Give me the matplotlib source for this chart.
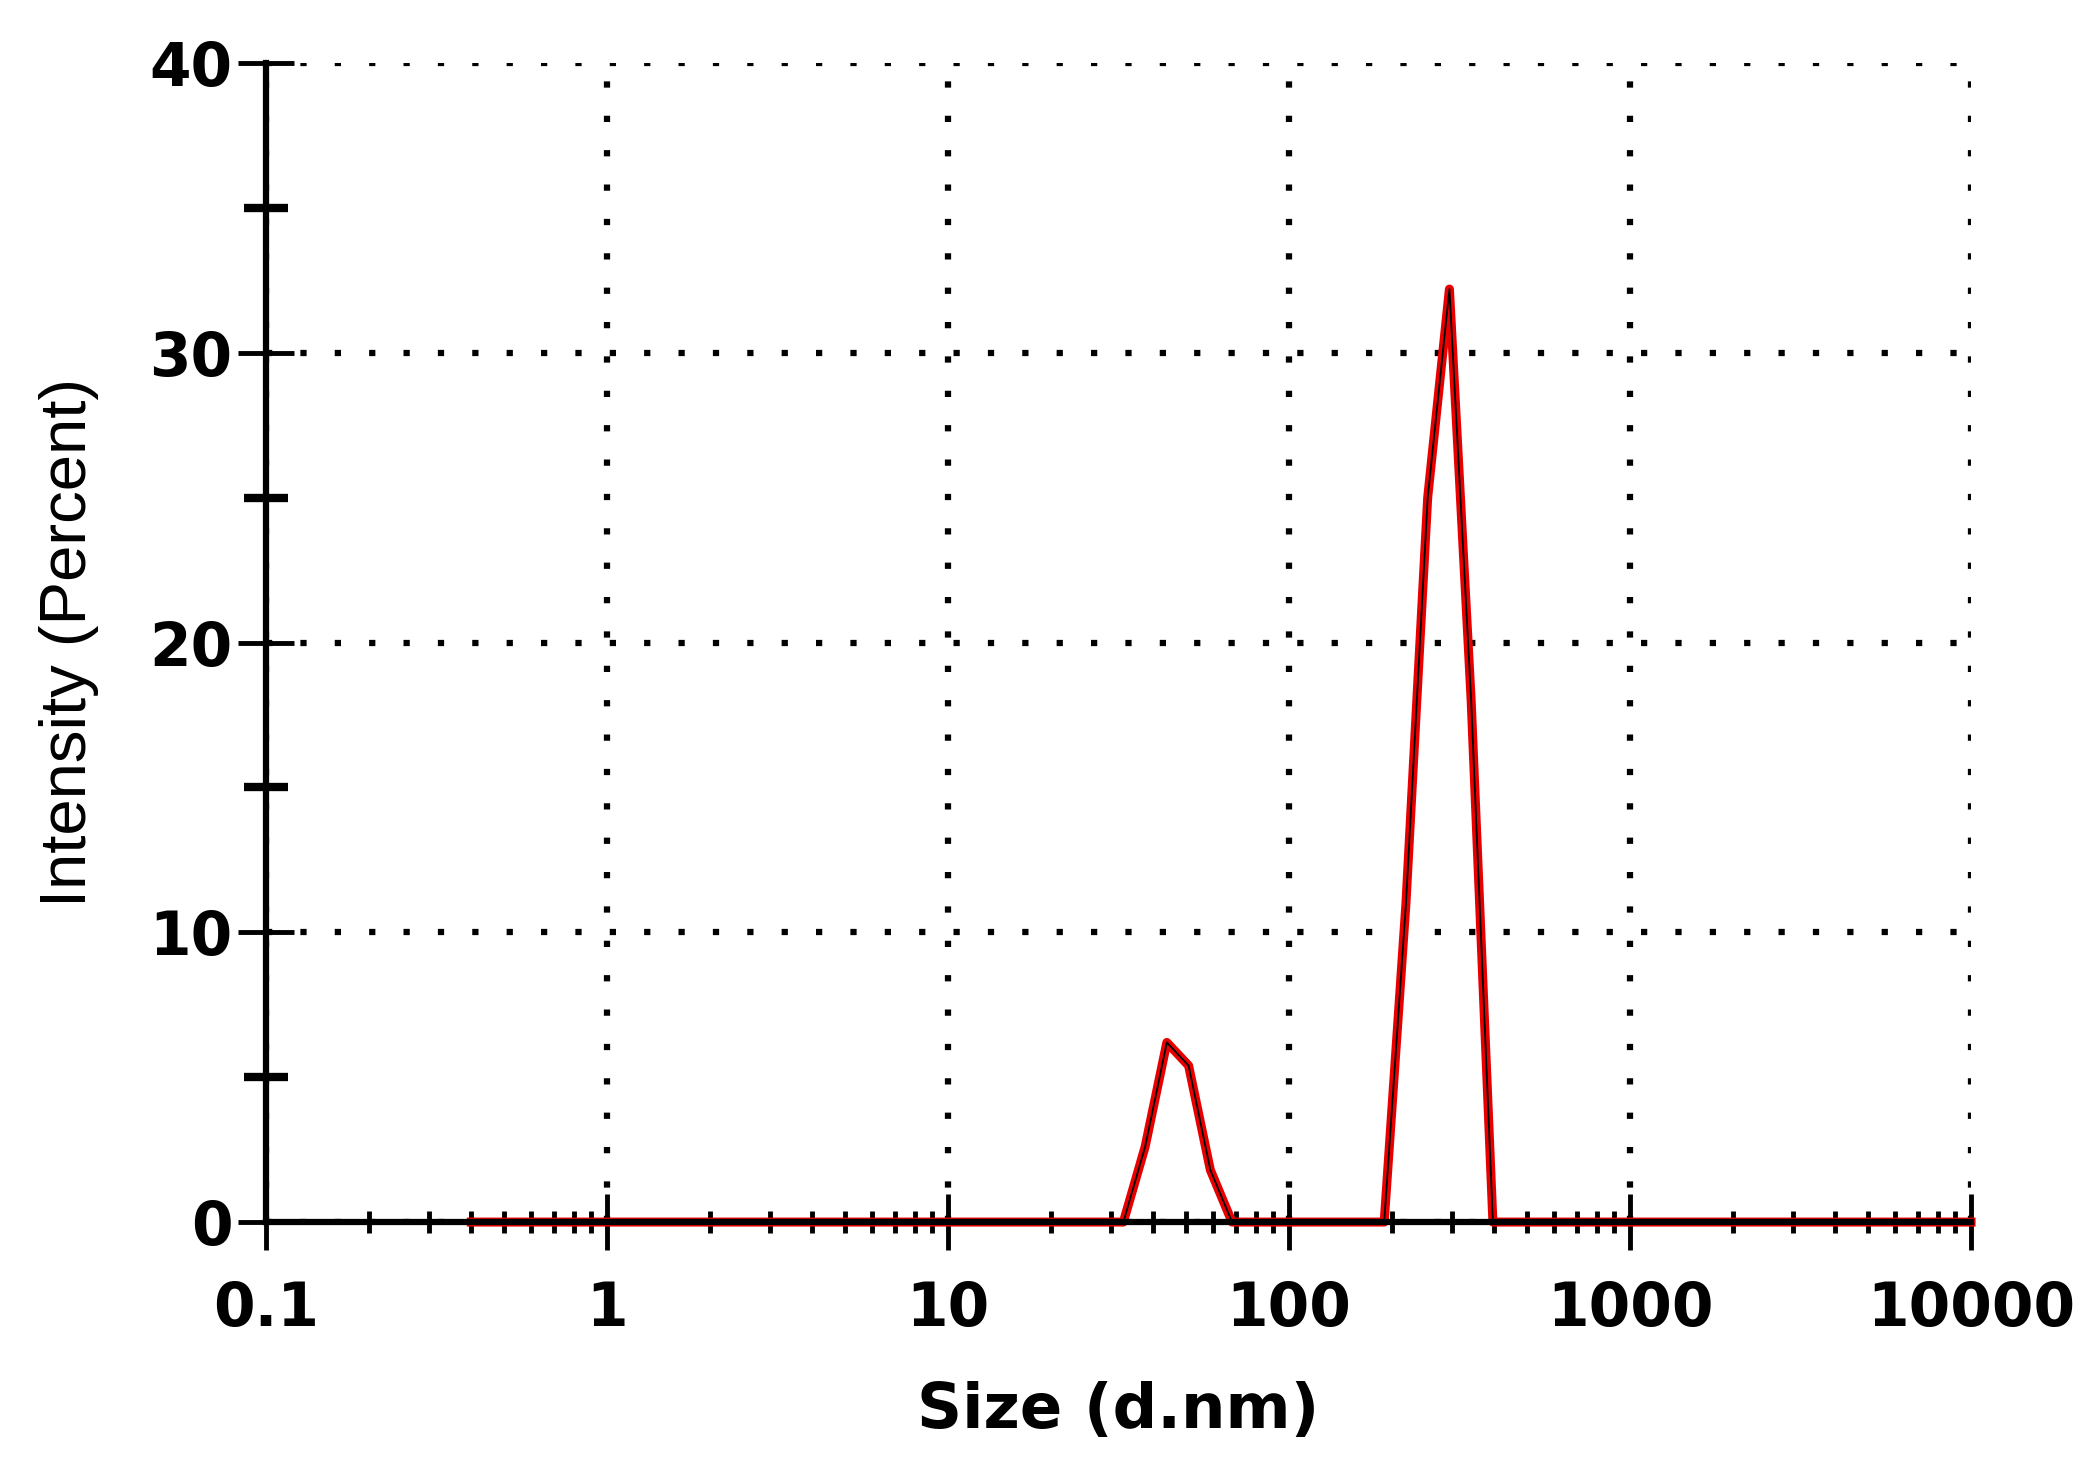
import matplotlib
matplotlib.use("Agg")
import matplotlib.pyplot as plt
from matplotlib.ticker import FixedLocator, NullFormatter

# Size bins (d.nm)
size_nm = [0.4, 0.4632, 0.5365, 0.6213, 0.7195, 0.8332, 0.9649, 1.117, 1.294, 1.499,
           1.736, 2.010, 2.328, 2.696, 3.122, 3.615, 4.187, 4.849, 5.615, 6.503,
           7.531, 8.721, 10.10, 11.70, 13.54, 15.69, 18.17, 21.04, 24.36, 28.21,
           32.67, 37.84, 43.82, 50.75, 58.77, 68.06, 78.82, 91.28, 105.7, 122.4,
           141.8, 164.2, 190.1, 220.2, 255.0, 295.3, 342.0, 396.1, 458.7, 531.2,
           615.1, 712.4, 825.0, 955.4, 1106, 1281, 1484, 1718, 1990, 2305,
           2669, 3091, 3580, 4145, 4801, 5560, 6439, 7456, 8635, 10000]
# Intensity (%) per bin
intensity = [0] * 30 + [0, 2.6, 6.2, 5.4, 1.8, 0] + [0] * 6 + [0, 11.0, 25.0, 32.2, 18.0, 0] + [0] * 22

x_ticks = [0.1, 1, 10, 100, 1000, 10000]
x_tick_labels = ["0.1", "1", "10", "100", "1000", "10000"]
y_ticks = [0, 10, 20, 30, 40]
y_tick_labels = ["0", "10", "20", "30", "40"]
y_minor = [5, 15, 25, 35]
x_label = "Size (d.nm)"
y_label = "Intensity (Percent)"

fig = plt.figure(figsize=(20.88, 14.84), dpi=100)
ax = fig.add_axes([0.1274, 0.1765, 0.9440 - 0.1274, 0.9575 - 0.1765])

ax.plot(size_nm, intensity, color="#e80000", lw=6.5, clip_on=False, zorder=2,
        solid_joinstyle="round")
ax.plot(size_nm, intensity, color="black", lw=1.3, clip_on=False, zorder=2.2)

ax.set_xscale("log")
ax.set_xlim(0.1, 10000)
ax.set_ylim(0, 40)

ax.xaxis.set_major_locator(FixedLocator(x_ticks))
ax.set_xticklabels(x_tick_labels)
minor_x = [m * 10.0 ** e for e in range(-1, 4) for m in range(2, 10)]
ax.xaxis.set_minor_locator(FixedLocator(minor_x))
ax.xaxis.set_minor_formatter(NullFormatter())
ax.set_yticks(y_ticks)
ax.set_yticklabels(y_tick_labels)
ax.yaxis.set_minor_locator(FixedLocator(y_minor))

for s in ["top", "right"]:
    ax.spines[s].set_visible(False)
for s in ["left", "bottom"]:
    ax.spines[s].set_linewidth(4.5)
    ax.spines[s].set_zorder(3)

for lab in ax.get_xticklabels() + ax.get_yticklabels():
    lab.set_fontfamily("DejaVu Sans")
    lab.set_fontweight("bold")
    lab.set_fontsize(43)

ax.tick_params(axis="x", which="major", direction="inout", length=40, width=3.5, pad=22)
ax.tick_params(axis="x", which="minor", direction="inout", length=16, width=3.5)
ax.tick_params(axis="y", which="major", direction="inout", length=40, width=3.5, pad=4)
ax.tick_params(axis="y", which="minor", direction="inout", length=32, width=6)

ax.grid(True, which="major", color="black", linestyle=(0, (1, 4.5)), linewidth=4.5)
ax.set_axisbelow(True)

ax.set_xlabel(x_label, fontfamily="DejaVu Sans", fontweight="bold", fontsize=45, labelpad=30)
ax.set_ylabel(y_label, fontfamily="Liberation Sans", fontsize=47, labelpad=36)

fig.savefig("out.png", dpi=100, facecolor="white")
